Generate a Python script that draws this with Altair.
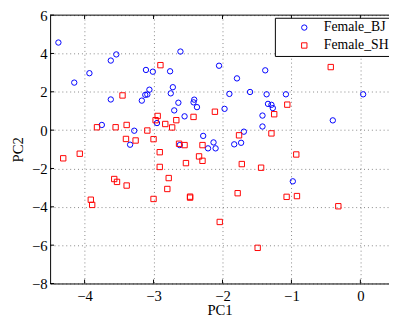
import altair as alt
import pandas as pd

groups = ["Female_BJ", "Female_SH"]
x_ticks = [-4, -3, -2, -1, 0]
y_ticks = [-8, -6, -4, -2, 0, 2, 4, 6]

bj_pc1 = [-4.38, -4.15, -3.93, -3.62, -3.54, -3.62, -3.75, -3.28, -3.34, -3.11,
          -3.01, -3.17, -3.12, -3.09, -3.06, -2.95, -2.76, -2.61, -2.72, -2.75,
          -2.64, -2.70, -2.55, -2.62, -2.41, -2.42, -2.37, -2.28, -2.13, -2.21,
          -2.10, -2.05, -1.79, -1.38, -1.90, -1.60, -1.36, -1.08, 0.04, -1.97,
          -1.34, -1.29, -1.27, -1.42, -1.42, -1.69, -0.40, -1.83, -1.73, -0.98]
bj_pc2 = [4.57, 2.48, 2.97, 3.63, 3.95, 1.60, 0.27, -0.03, -0.76, 3.14,
          3.05, 1.54, 1.84, 1.86, 2.11, 0.37, 3.07, 4.10, 2.24, 1.92,
          1.43, 1.03, 0.72, -0.78, 1.59, 1.45, 1.20, -0.30, -0.64, -0.95,
          -0.95, 3.36, 2.70, 3.12, 1.89, 1.99, 1.87, 1.87, 1.87, 1.11,
          1.37, 1.32, 1.15, 0.76, 0.19, -0.08, 0.51, -0.74, -0.66, -2.67]

sh_pc1 = [-2.90, -3.45, -3.82, -3.55, -3.39, -2.94, -2.97, -2.83, -2.67, -2.73,
          -2.42, -2.11, -3.09, -3.40, -3.26, -3.00, -2.63, -2.55, -2.29, -4.31,
          -4.07, -2.91, -2.91, -3.57, -3.53, -3.39, -3.91, -3.89, -3.00, -2.78,
          -2.80, -2.47, -2.47, -2.53, -2.34, -2.29, -0.43, -1.06, -1.25, -1.76,
          -1.29, -0.93, -1.72, -1.44, -1.78, -1.07, -0.92, -0.32, -2.04, -1.49]
sh_pc2 = [3.39, 1.81, 0.15, 0.15, 0.27, 0.74, 0.52, 0.32, 0.52, 0.14,
          0.69, 0.96, -0.02, -0.46, -0.54, -0.47, -0.71, -0.78, -0.78, -1.47,
          -1.23, -1.15, -1.92, -2.55, -2.70, -2.89, -3.63, -3.90, -3.59, -2.50,
          -3.07, -3.47, -3.52, -1.72, -1.37, -1.60, 3.29, 1.33, 0.83, -0.27,
          -0.17, -1.27, -1.77, -1.96, -3.29, -3.48, -3.44, -3.97, -4.79, -6.14]

pts = pd.DataFrame({
    "PC1": bj_pc1 + sh_pc1,
    "PC2": bj_pc2 + sh_pc2,
    "group": [groups[0]] * len(bj_pc1) + [groups[1]] * len(sh_pc1),
})
xt = pd.DataFrame({"PC1": x_ticks})
yt = pd.DataFrame({"PC2": y_ticks})
one = pd.DataFrame({"a": [0]})

TOP = 4
W, H = 346, 278 - TOP
FONT = "Liberation Serif"
xscale = alt.Scale(domain=[-4.5, 0.415], nice=False, zero=False)
yscale = alt.Scale(domain=[-8, 6], nice=False, zero=False)
xaxis = alt.Axis(values=x_ticks, title="PC1", grid=True, labelPadding=5, titlePadding=0)
yaxis = alt.Axis(values=y_ticks, title="PC2", grid=True, labelPadding=3, titlePadding=6)

legend = alt.Legend(
    title=None, orient="none", legendX=229.5, legendY=14.7 - 8 - TOP,
    strokeColor="black", fillColor="white", padding=3, rowPadding=4.3,
    labelFont=FONT, labelFontSize=14, labelColor="black",
    symbolSize=30, symbolStrokeWidth=1, symbolOffset=20, labelOffset=13,
)

points = alt.Chart(pts).mark_point(filled=False, size=30, strokeWidth=1, opacity=1).encode(
    x=alt.X("PC1:Q", scale=xscale, axis=xaxis),
    y=alt.Y("PC2:Q", scale=yscale, axis=yaxis),
    color=alt.Color("group:N", scale=alt.Scale(domain=groups, range=["#0000ff", "#ff0000"]), legend=legend),
    shape=alt.Shape("group:N", scale=alt.Scale(domain=groups, range=["circle", "square"]), legend=legend),
)

bottom_ticks = alt.Chart(xt).mark_rule(color="black", strokeWidth=1).encode(
    x=alt.X("PC1:Q", scale=xscale, axis=xaxis), y=alt.value(H), y2=alt.value(H - 4))
top_ticks = alt.Chart(xt).mark_rule(color="black", strokeWidth=1).encode(
    x=alt.X("PC1:Q", scale=xscale, axis=xaxis), y=alt.value(0), y2=alt.value(4))
left_ticks = alt.Chart(yt).mark_rule(color="black", strokeWidth=1).encode(
    y=alt.Y("PC2:Q", scale=yscale, axis=yaxis), x=alt.value(0), x2=alt.value(4))
top_line = alt.Chart(one).mark_rule(color="black", strokeWidth=1).encode(
    x=alt.value(0), x2=alt.value(W), y=alt.value(0))

chart = alt.layer(points, bottom_ticks, top_ticks, left_ticks, top_line).properties(
    width=W, height=H,
    autosize=alt.AutoSizeParams(type="none"),
    padding={"left": 43, "top": TOP, "right": 0, "bottom": 34},
).configure_view(stroke=None).configure_axis(
    labelFont=FONT, labelFontSize=15, labelColor="black",
    titleFont=FONT, titleFontSize=15, titleFontWeight="normal", titleColor="black",
    domainColor="black", domainWidth=1, tickSize=0,
    gridColor="#666666", gridDash=[1, 3], gridWidth=1, gridOpacity=0.8,
)

chart.save("out.html", embed_options={"renderer": "svg", "actions": False})
